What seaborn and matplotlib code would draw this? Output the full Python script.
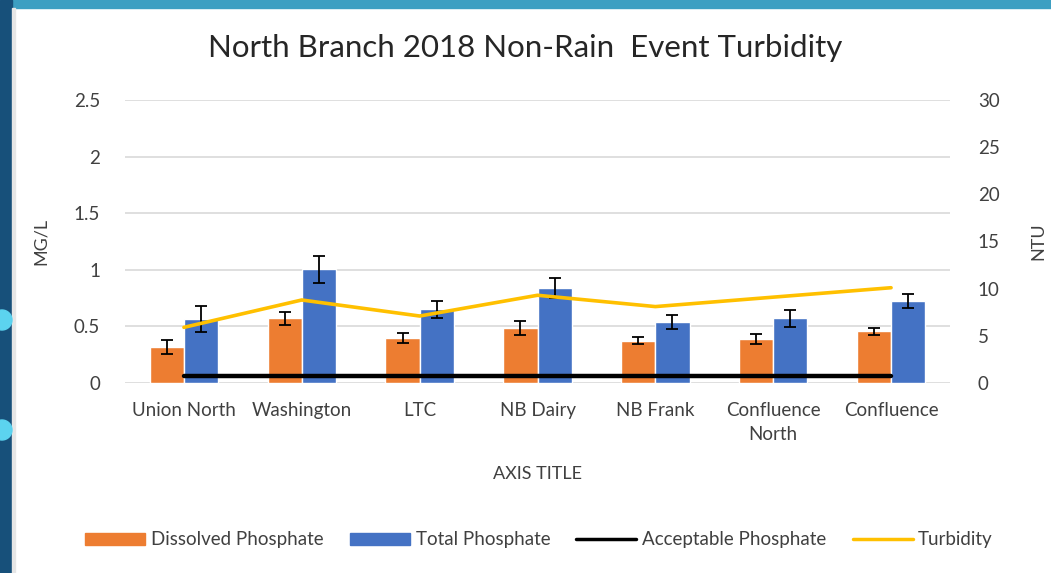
import numpy as np
import pandas as pd
import matplotlib
matplotlib.use("Agg")
import matplotlib.pyplot as plt
import seaborn as sns
from matplotlib.patches import Rectangle, Circle, Patch
from matplotlib.lines import Line2D

# ── data ──────────────────────────────────────────────────────────────────────
sites = ["Union North", "Washington", "LTC", "NB Dairy", "NB Frank",
         "Confluence\nNorth", "Confluence"]
dissolved = [0.32, 0.57, 0.40, 0.49, 0.375, 0.39, 0.455]
dissolved_err = [0.06, 0.06, 0.045, 0.062, 0.034, 0.043, 0.035]
total = [0.565, 1.005, 0.65, 0.84, 0.54, 0.57, 0.725]
total_err = [0.118, 0.118, 0.077, 0.085, 0.062, 0.075, 0.06]
acceptable = [0.06] * 7
turbidity = [5.9, 8.8, 7.1, 9.3, 8.1, 9.1, 10.1]

series = ["Dissolved Phosphate", "Total Phosphate"]
colors = {"Dissolved Phosphate": "#ED7D31", "Total Phosphate": "#4472C4"}

df = pd.DataFrame({
    "site": sites * 2,
    "series": [series[0]] * 7 + [series[1]] * 7,
    "value": dissolved + total,
})
errs = {series[0]: dissolved_err, series[1]: total_err}

# ── figure ────────────────────────────────────────────────────────────────────
sns.set_theme(style="white")
plt.rcParams["font.family"] = ["Lato", "DejaVu Sans"]

fig = plt.figure(figsize=(10.51, 5.73), dpi=100)
fig.patch.set_facecolor("white")

# slide frame around the pasted chart
fig.patches.append(Rectangle((0, 1 - 8 / 573), 1, 8 / 573, transform=fig.transFigure,
                             color="#3d9fc2", zorder=0))
fig.patches.append(Rectangle((0, 0), 12 / 1051, 1, transform=fig.transFigure,
                             color="#17507a", zorder=0))
fig.patches.append(Rectangle((12 / 1051, 0), 3 / 1051, 1 - 8 / 573, transform=fig.transFigure,
                             color="#e6e6e6", zorder=0))
for cy in (320, 430):
    fig.patches.append(Circle((2, 573 - cy), 10, transform=None,
                              color="#5cd3ef", zorder=1))

ax = fig.add_axes([125 / 1051, 1 - 383 / 573, (950 - 125) / 1051, (383 - 100) / 573])

sns.barplot(data=df, x="site", y="value", hue="series", hue_order=series,
            palette=colors, width=0.58, errorbar=None, legend=False,
            saturation=1, ax=ax, zorder=3)

for cont, name in zip(ax.containers, series):
    xs = [b.get_x() + b.get_width() / 2 for b in cont]
    ys = [b.get_height() for b in cont]
    ax.errorbar(xs, ys, yerr=errs[name], fmt="none", ecolor="black",
                elinewidth=1.3, capsize=4.5, capthick=1.3, zorder=5)

ax.plot(range(len(sites)), acceptable, color="black", lw=3.2, zorder=4)

ax.set_xlim(-0.5, len(sites) - 0.5)
ax.set_ylim(0, 2.5)
ax.set_yticks([0, 0.5, 1, 1.5, 2, 2.5])
ax.set_yticklabels(["0", "0.5", "1", "1.5", "2", "2.5"])
ax.yaxis.grid(True, color="#d9d9d9", lw=1.2)
ax.set_axisbelow(True)
for s in ax.spines.values():
    s.set_visible(False)
ax.tick_params(axis="both", length=0, labelsize=13.5, colors="#404040")
ax.tick_params(axis="y", pad=18)
ax.tick_params(axis="x", pad=14)
for t in ax.get_xticklabels():
    t.set_linespacing(1.5)
ax.set_xlabel("AXIS TITLE", fontsize=13, color="#404040", labelpad=16)
ax.set_ylabel("MG/L", fontsize=13, color="#404040", labelpad=18)

ax2 = ax.twinx()
ax2.plot(range(len(sites)), turbidity, color="#FFC000", lw=2.6, zorder=4)
ax2.set_ylim(0, 30)
ax2.set_yticks(range(0, 31, 5))
for s in ax2.spines.values():
    s.set_visible(False)
ax2.tick_params(axis="y", length=0, labelsize=13.5, colors="#404040", pad=20)
ax2.set_ylabel("NTU", fontsize=13, color="#404040", labelpad=22)
ax2.grid(False)

fig.text(0.5, 1 - 48 / 573, "North Branch 2018 Non-Rain  Event Turbidity",
         ha="center", va="center", fontsize=22.5, color="#262626")

handles = [Patch(color=colors[series[0]]), Patch(color=colors[series[1]]),
           Line2D([], [], color="black", lw=2.5), Line2D([], [], color="#FFC000", lw=2.5)]
labels = ["Dissolved Phosphate", "Total Phosphate", "Acceptable Phosphate", "Turbidity"]
fig.legend(handles, labels, loc="center", bbox_to_anchor=(0.513, 1 - 540 / 573), ncol=4,
           frameon=False, fontsize=13.5, handlelength=3.2, handleheight=0.6,
           handletextpad=0.3, columnspacing=1.4, labelcolor="#404040")

fig.savefig("out.png", dpi=100)
